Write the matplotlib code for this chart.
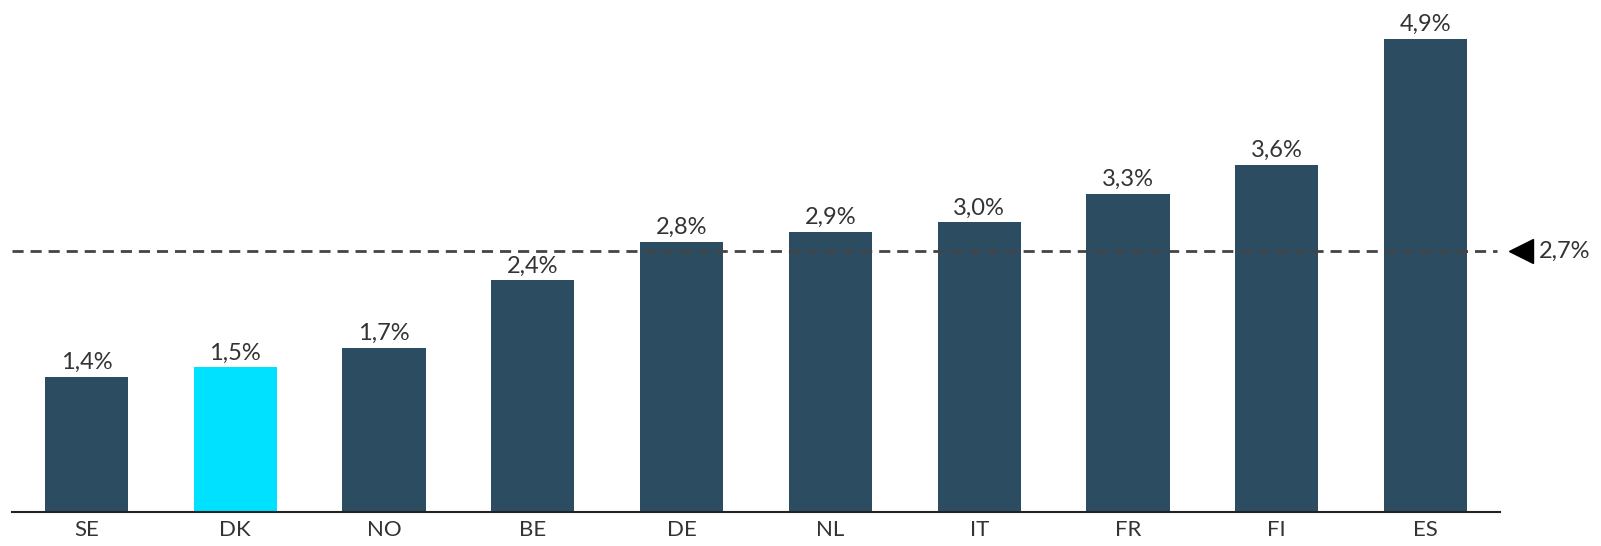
import matplotlib.pyplot as plt

countries = ['SE', 'DK', 'NO', 'BE', 'DE', 'NL', 'IT', 'FR', 'FI', 'ES']
values = [1.4, 1.5, 1.7, 2.4, 2.8, 2.9, 3.0, 3.3, 3.6, 4.9]
avg = 2.7
highlight = 'DK'

plt.rcParams['font.family'] = ['Lato', 'DejaVu Sans']

fig = plt.figure(figsize=(16.01, 5.46), dpi=100)
ax = fig.add_axes([12/1601, 34/546, 1488/1601, 512/546])

colors = ['#00E1FF' if c == highlight else '#2C4D61' for c in countries]
x = list(range(len(countries)))
ax.bar(x, values, width=0.56, color=colors, zorder=2)

for xi, v in zip(x, values):
    ax.text(xi, v + 0.04, f'{v:.1f}%'.replace('.', ','), ha='center', va='bottom',
            fontsize=17, color='#333333')

# average line with marker on the right
ax.axhline(avg, color='#444444', lw=2, ls=(0, (4, 2.5)), zorder=3, clip_on=False,
           xmax=0.998)
ax.plot([9.64], [avg], marker='<', color='black', ms=17, clip_on=False)
ax.text(9.76, avg, f'{avg:.1f}%'.replace('.', ','), va='center', ha='left',
        fontsize=17, color='#333333')

ax.set_xlim(-0.5, 9.5)
ax.set_ylim(0, 5.305)
ax.set_xticks(x)
ax.set_xticklabels(countries, fontsize=16, color='#333333')
ax.tick_params(axis='x', length=0, pad=6)
ax.set_yticks([])
for s in ['top', 'right', 'left']:
    ax.spines[s].set_visible(False)
ax.spines['bottom'].set_color('#222222')
ax.spines['bottom'].set_linewidth(1.5)

fig.savefig('out.png', dpi=100)
